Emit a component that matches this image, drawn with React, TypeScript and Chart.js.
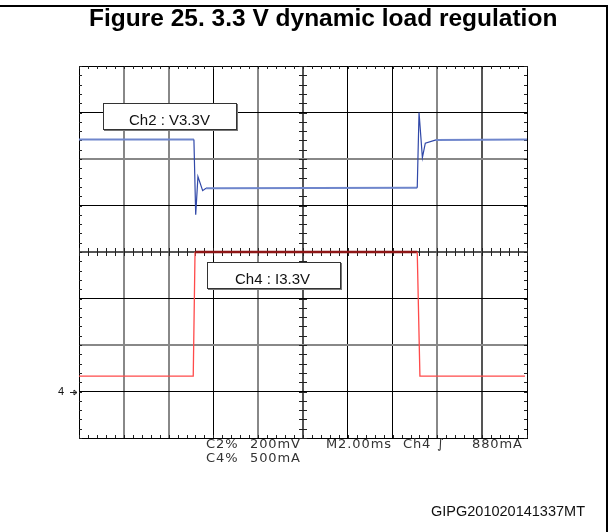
import React, { useEffect, useRef } from 'react';
import { Chart, registerables } from 'chart.js';

Chart.register(...registerables);

// Time axis (ms), 2 ms/div, 10 divisions
const X_MIN = -10;
const X_MAX = 10;
const X_STEP = 2;
// Vertical axis in divisions, 8 divisions
const Y_MIN = -4;
const Y_MAX = 4;

// Ch2 : V3.3V trace (time in ms, level in divisions)
const ch2Time = [-10, -4.87, -4.79, -4.69, -4.48, -4.33, -4.02, 5.1, 5.18, 5.33, 5.46, 5.94, 10];
const ch2Level = [2.42, 2.42, 0.8, 1.62, 1.32, 1.37, 1.37, 1.38, 3.0, 2.03, 2.34, 2.41, 2.42];

// Ch4 : I3.3V trace (time in ms, level in divisions)
const ch4Time = [-10, -4.9, -4.82, 5.1, 5.22, 9.91];
const ch4Level = [-2.67, -2.67, 0, 0, -2.67, -2.67];

// Ch4 ground marker level (divisions)
const ch4Ground = -3;

const titleText = 'Figure 25. 3.3 V dynamic load regulation';
const ch2Label = 'Ch2 : V3.3V';
const ch4Label = 'Ch4 : I3.3V';
const footerText = 'GIPG201020141337MT';
const readoutRow1 = ['C2%', '200mV', 'M2.00ms', 'Ch4', '∫', '880mA'];
const readoutRow2 = ['C4%', '500mA'];
const readoutRow1X = [206, 250, 326, 403, 437, 472];
const readoutRow2X = [206, 250];

const xGridColor = ['#000', '#888', '#888', '#000', '#888', '#555', '#000', '#000', '#888', '#555', '#000'];
const xGridWidth = [1, 2, 2, 1, 2, 2, 1, 1, 2, 2, 1];
const yGridColor = ['#000', '#000', '#888', '#000', '#555', '#000', '#888', '#000', '#000'];
const yGridWidth = [1, 1, 2, 1, 2, 1, 2, 1, 1];

const minorTicks = {
  id: 'minorTicks',
  beforeDatasetsDraw(chart: any) {
    const { ctx, chartArea: a, scales } = chart;
    const x = scales.x;
    const y = scales.y;
    const xc = Math.round(x.getPixelForValue(0));
    const yc = Math.round(y.getPixelForValue(0));
    ctx.save();
    ctx.strokeStyle = '#222';
    ctx.lineWidth = 1;
    ctx.beginPath();
    const nx = ((X_MAX - X_MIN) / X_STEP) * 5;
    for (let i = 0; i <= nx; i++) {
      const v = X_MIN + (i * (X_MAX - X_MIN)) / nx;
      const px = Math.round(x.getPixelForValue(v)) + 0.5;
      ctx.moveTo(px, a.top);
      ctx.lineTo(px, a.top + 3);
      ctx.moveTo(px, a.bottom);
      ctx.lineTo(px, a.bottom - 3);
      ctx.moveTo(px, yc - 4);
      ctx.lineTo(px, yc + 4);
    }
    const ny = (Y_MAX - Y_MIN) * 5;
    for (let j = 0; j <= ny; j++) {
      const v = Y_MIN + (j * (Y_MAX - Y_MIN)) / ny;
      const py = Math.round(y.getPixelForValue(v)) + 0.5;
      ctx.moveTo(a.left, py);
      ctx.lineTo(a.left + 3, py);
      ctx.moveTo(a.right, py);
      ctx.lineTo(a.right - 3, py);
      ctx.moveTo(xc - 4, py);
      ctx.lineTo(xc + 4, py);
    }
    ctx.stroke();
    // ground marker arrow for Ch4
    const gy = Math.round(y.getPixelForValue(ch4Ground)) + 0.5;
    ctx.beginPath();
    ctx.moveTo(a.left - 9, gy);
    ctx.lineTo(a.left - 2, gy);
    ctx.moveTo(a.left - 5, gy - 2.5);
    ctx.lineTo(a.left - 2, gy);
    ctx.lineTo(a.left - 5, gy + 2.5);
    ctx.closePath();
    ctx.stroke();
    ctx.restore();
  },
};

export default function App() {
  const ref = useRef<HTMLCanvasElement | null>(null);

  useEffect(() => {
    if (!ref.current) return;
    const chart = new Chart(ref.current, {
      type: 'line',
      data: {
        datasets: [
          {
            label: ch4Label,
            data: ch4Time.map((t, i) => ({ x: t, y: ch4Level[i] })),
            borderColor: '#ff4a4a',
            borderWidth: 1.3,
            pointRadius: 0,
            tension: 0,
            segment: {
              borderColor: (c: any) =>
                c.p0.parsed.y === 0 && c.p1.parsed.y === 0 ? '#8e1616' : '#ff4a4a',
              borderWidth: (c: any) =>
                c.p0.parsed.y === 0 && c.p1.parsed.y === 0 ? 2.5 : 1.3,
            },
          },
          {
            label: ch2Label,
            data: ch2Time.map((t, i) => ({ x: t, y: ch2Level[i] })),
            borderColor: '#3048a8',
            borderWidth: 1.2,
            pointRadius: 0,
            tension: 0,
            segment: {
              borderColor: (c: any) =>
                Math.abs(c.p0.parsed.y - c.p1.parsed.y) < 0.02 ? '#6f86cc' : '#3048a8',
              borderWidth: (c: any) =>
                Math.abs(c.p0.parsed.y - c.p1.parsed.y) < 0.02 ? 2 : 1.2,
            },
          },
        ],
      },
      options: {
        animation: false,
        responsive: false,
        events: [],
        layout: { padding: { left: 79, right: 85, top: 66, bottom: 94 }, autoPadding: false },
        plugins: { legend: { display: false }, tooltip: { enabled: false } },
        scales: {
          x: {
            type: 'linear',
            min: X_MIN,
            max: X_MAX,
            ticks: { display: false, stepSize: X_STEP },
            grid: {
              drawTicks: false,
              color: (c: any) => xGridColor[c.index] ?? '#000',
              lineWidth: (c: any) => xGridWidth[c.index] ?? 1,
            },
            border: { display: true, color: '#000', width: 1 },
          },
          y: {
            type: 'linear',
            min: Y_MIN,
            max: Y_MAX,
            ticks: { display: false, stepSize: 1 },
            grid: {
              drawTicks: false,
              color: (c: any) => yGridColor[c.index] ?? '#000',
              lineWidth: (c: any) => yGridWidth[c.index] ?? 1,
            },
            border: { display: true, color: '#000', width: 1 },
          },
        },
      },
      plugins: [minorTicks],
    });
    return () => chart.destroy();
  }, []);

  const sans = '"Liberation Sans", Arial, sans-serif';
  const scope = '"DejaVu Sans", sans-serif';

  return (
    <div
      style={{
        position: 'fixed',
        left: 0,
        top: 0,
        width: 612,
        height: 532,
        background: '#fff',
        overflow: 'hidden',
      }}
    >
      <canvas ref={ref} width={612} height={532} style={{ position: 'absolute', left: 0, top: 0 }} />
      <div style={{ position: 'absolute', left: 0, top: 5, width: 608, height: 2, background: '#000' }} />
      <div style={{ position: 'absolute', left: 606, top: 5, width: 2, height: 527, background: '#000' }} />
      <div
        style={{
          position: 'absolute',
          left: 89,
          top: 6.3,
          fontFamily: sans,
          fontWeight: 'bold',
          fontSize: 24.5,
          lineHeight: '24.5px',
          whiteSpace: 'nowrap',
          color: '#000',
        }}
      >
        {titleText}
      </div>

      {/* Ch2 label box */}
      <div
        style={{
          position: 'absolute',
          left: 103,
          top: 103,
          width: 132,
          height: 25,
          border: '1px solid #333',
          boxShadow: '1px 1px 0 #777',
          background: '#fff',
        }}
      />
      <div
        style={{
          position: 'absolute',
          left: 129,
          top: 111.6,
          fontFamily: sans,
          fontSize: 15,
          lineHeight: '15px',
          whiteSpace: 'nowrap',
          color: '#111',
        }}
      >
        {ch2Label}
      </div>

      {/* Ch4 label box */}
      <div
        style={{
          position: 'absolute',
          left: 207,
          top: 262,
          width: 132,
          height: 25,
          border: '1px solid #333',
          boxShadow: '1px 1px 0 #777',
          background: '#fff',
        }}
      />
      <div
        style={{
          position: 'absolute',
          left: 235,
          top: 270.6,
          fontFamily: sans,
          fontSize: 15,
          lineHeight: '15px',
          whiteSpace: 'nowrap',
          color: '#111',
        }}
      >
        {ch4Label}
      </div>

      {/* ground marker label */}
      <div
        style={{
          position: 'absolute',
          left: 58,
          top: 385.5,
          fontFamily: sans,
          fontSize: 11,
          lineHeight: '11px',
          color: '#111',
        }}
      >
        4
      </div>

      {readoutRow1.map((s, i) => (
        <div
          key={'r1' + i}
          style={{
            position: 'absolute',
            left: readoutRow1X[i],
            top: 436.7,
            fontFamily: scope,
            fontSize: 13,
            lineHeight: '13px',
            letterSpacing: 0.9,
            whiteSpace: 'nowrap',
            color: '#333',
          }}
        >
          {s}
        </div>
      ))}
      {readoutRow2.map((s, i) => (
        <div
          key={'r2' + i}
          style={{
            position: 'absolute',
            left: readoutRow2X[i],
            top: 450.7,
            fontFamily: scope,
            fontSize: 13,
            lineHeight: '13px',
            letterSpacing: 0.9,
            whiteSpace: 'nowrap',
            color: '#333',
          }}
        >
          {s}
        </div>
      ))}

      <div
        style={{
          position: 'absolute',
          right: 27,
          top: 504,
          fontFamily: sans,
          fontSize: 14.5,
          lineHeight: '14.5px',
          whiteSpace: 'nowrap',
          color: '#111',
        }}
      >
        {footerText}
      </div>
    </div>
  );
}
